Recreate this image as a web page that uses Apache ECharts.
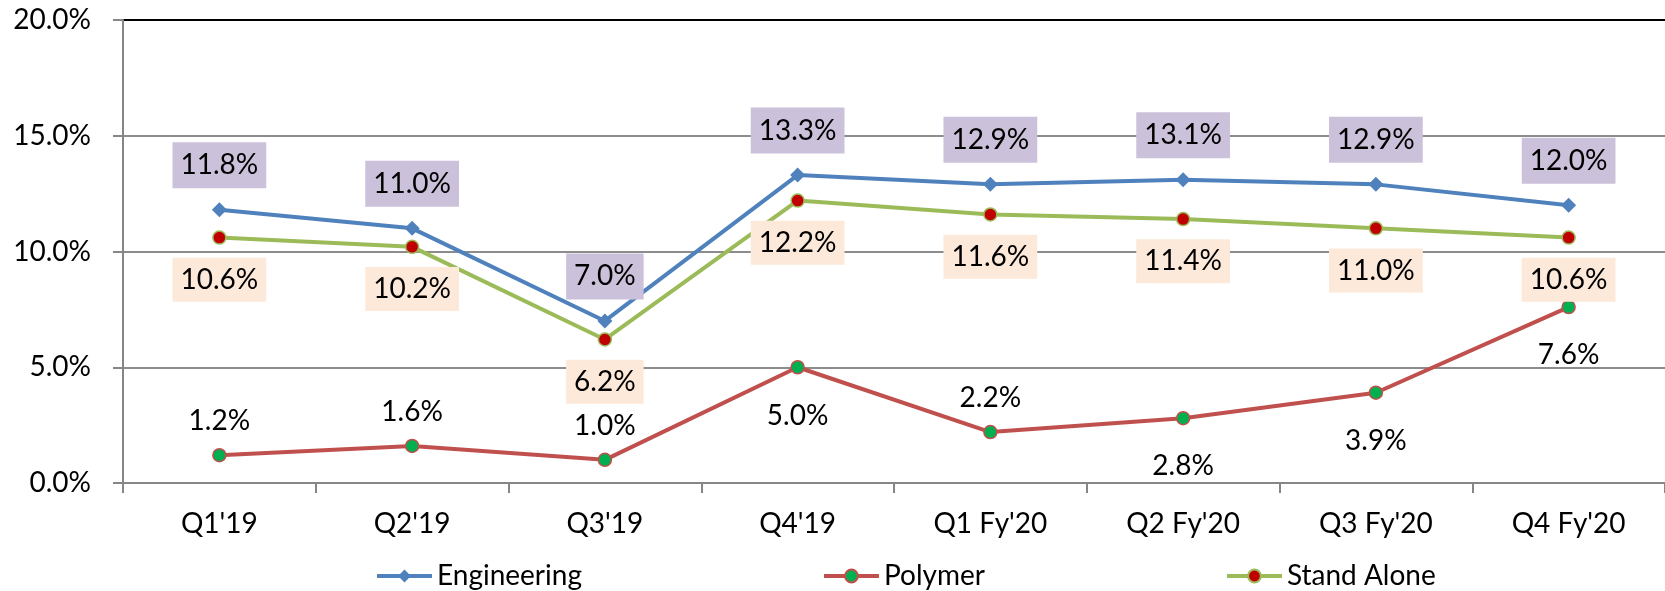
<!DOCTYPE html>
<html>
<head>
<meta charset="utf-8">
<script src="https://cdn.jsdelivr.net/npm/echarts@6/dist/echarts.min.js"></script>
<style>
  html, body { margin: 0; padding: 0; background: #fff; }
  #myChart { width: 1665px; height: 591px; }
</style>
</head>
<body>
<div id="myChart"></div>
<script>
// chart data
const categories = ["Q1'19", "Q2'19", "Q3'19", "Q4'19", "Q1 Fy'20", "Q2 Fy'20", "Q3 Fy'20", "Q4 Fy'20"]
const engineering = [11.8, 11.0, 7.0, 13.3, 12.9, 13.1, 12.9, 12.0]
const polymer = [1.2, 1.6, 1.0, 5.0, 2.2, 2.8, 3.9, 7.6]
const standAlone = [10.6, 10.2, 6.2, 12.2, 11.6, 11.4, 11.0, 10.6]
const yTicks = [0, 5, 10, 15, 20]
// where each polymer label sits
const polymerLabelSide = ['top', 'top', 'top', 'bottom', 'top', 'bottom', 'bottom', 'bottom']

const FONT = 'Lato'
const FS = 28
const pct = v => v.toFixed(1) + '%'

let myChart = echarts.init(document.getElementById('myChart'))

myChart.setOption({
    animation: false,
    textStyle: { fontFamily: FONT },
    grid: { left: 123, right: 0, top: 20, bottom: 108 },
    legend: {
        left: 370,
        top: 557,
        itemWidth: 55,
        itemHeight: 16,
        itemGap: 240,
        lineStyle: { width: 4 },
        textStyle: { fontFamily: FONT, fontSize: FS, color: '#000' },
        data: ['Engineering', 'Polymer', 'Stand Alone']
    },
    xAxis: {
        type: 'category',
        data: categories,
        boundaryGap: true,
        axisLine: { lineStyle: { color: '#868686', width: 2 } },
        axisTick: { show: true, length: 10, lineStyle: { color: '#868686', width: 2 } },
        axisLabel: { color: '#000', fontSize: FS, fontFamily: FONT, margin: 27 }
    },
    yAxis: {
        type: 'value',
        min: yTicks[0],
        max: yTicks[yTicks.length - 1],
        interval: 5,
        axisLine: { show: true, lineStyle: { color: '#868686', width: 2 } },
        axisTick: { show: true, length: 10, lineStyle: { color: '#868686', width: 2 } },
        axisLabel: { color: '#000', fontSize: FS, fontFamily: FONT, margin: 32, formatter: pct },
        splitLine: { show: true, lineStyle: { color: ['#8c8c8c', '#8c8c8c', '#8c8c8c', '#8c8c8c', '#000'], width: 2 } }
    },
    series: [
        {
            name: 'Engineering',
            type: 'line',
            data: engineering,
            symbol: 'diamond',
            symbolSize: 15,
            lineStyle: { color: '#4F81BD', width: 4 },
            itemStyle: { color: '#4F81BD' },
            label: {
                show: true, position: 'top', distance: 14,
                formatter: p => pct(p.value),
                color: '#000', fontSize: FS, fontFamily: FONT, lineHeight: 28,
                backgroundColor: '#CCC1DA', padding: [9, 8, 9, 8]
            },
            z: 3
        },
        {
            name: 'Polymer',
            type: 'line',
            data: polymer.map((v, i) => ({
                value: v,
                label: { position: polymerLabelSide[i], distance: polymerLabelSide[i] === 'top' ? 13 : 27 }
            })),
            symbol: 'circle',
            symbolSize: 13,
            lineStyle: { color: '#C0504D', width: 4 },
            itemStyle: { color: '#00B050', borderColor: '#C0504D', borderWidth: 1.5 },
            label: {
                show: true,
                formatter: p => pct(p.value),
                color: '#000', fontSize: FS, fontFamily: FONT
            },
            z: 2
        },
        {
            name: 'Stand Alone',
            type: 'line',
            data: standAlone,
            symbol: 'circle',
            symbolSize: 13,
            lineStyle: { color: '#9BBB59', width: 4 },
            itemStyle: { color: '#C00000', borderColor: '#9BBB59', borderWidth: 1.5 },
            label: {
                show: true, position: 'bottom', distance: 13,
                formatter: p => pct(p.value),
                color: '#000', fontSize: FS, fontFamily: FONT, lineHeight: 28,
                backgroundColor: '#FDE9D9', padding: [8, 8, 8, 8]
            },
            z: 4
        }
    ]
})
</script>
</body>
</html>
